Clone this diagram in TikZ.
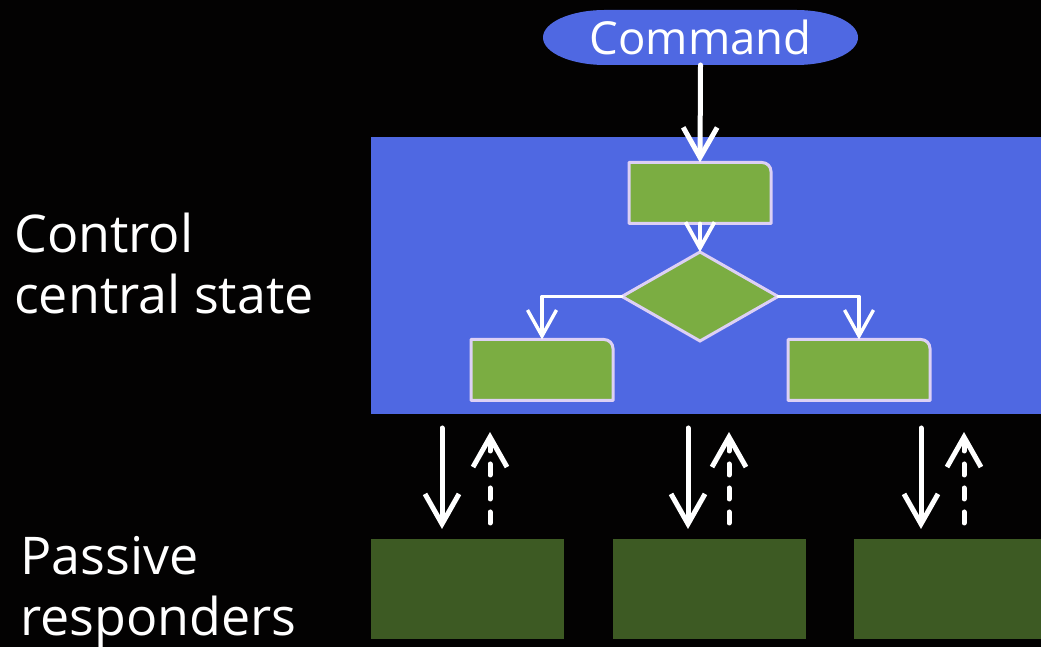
\documentclass[tikz,border=0pt]{standalone}
\usepackage{fontspec}
\setmainfont{Open Sans}
\usetikzlibrary{arrows.meta,shapes.geometric,calc,backgrounds}

\definecolor{bgblack}{HTML}{030202}
\definecolor{panelblue}{HTML}{4F68E2}
\definecolor{leaf}{HTML}{7BAD42}
\definecolor{moss}{HTML}{3D5A23}
\definecolor{lavender}{HTML}{DDD0F5}

\tikzset{
  cmdpill/.style={rectangle, minimum width=315pt, minimum height=55pt,
    inner sep=0pt, outer sep=0pt, text=white, font=\fontsize{45.5}{52}\selectfont},
  ctrlpanel/.style={rectangle, fill=panelblue, minimum width=670pt, minimum height=277pt,
    inner sep=0pt, outer sep=0pt},
  stepbox/.style={rectangle, minimum width=142pt, minimum height=61pt, inner sep=0pt, outer sep=0pt},
  boxline/.style={draw=lavender, fill=leaf, line width=3pt, line join=round},
  decision/.style={diamond, draw=lavender, fill=leaf, line width=3pt, minimum width=156pt,
    minimum height=89pt, inner sep=0pt, outer sep=0pt},
  responder/.style={rectangle, fill=moss, minimum height=100pt, inner sep=0pt, outer sep=0pt},
  sidetext/.style={anchor=west, align=left, text=white, inner sep=0pt,
    font=\fontsize{52}{61}\selectfont},
  flow/.style={draw=white, line width=5pt, line cap=round, line join=round,
    -{Straight Barb[length=30pt, width=34pt]}},
  innerflow/.style={flow, line width=3.8pt, -{Straight Barb[length=26pt, width=29pt]}},
  reply/.style={flow, dash pattern=on 11pt off 13pt},
}

\begin{document}
\begin{tikzpicture}[x=1pt, y=1pt]
  \begin{scope}[on background layer]
    \fill[bgblack] (0,0) rectangle (1041,647);
  \end{scope}
  \useasboundingbox (0,0) rectangle (1041,647);

  % control panel and its flowchart
  \node[ctrlpanel] (ctrl) at (706,371.5) {};
  \node[cmdpill] (cmd) at (700.5,609.5) {Command};
  \begin{scope}[on background layer]
    \fill[panelblue] ([xshift=62pt]cmd.north west) -- ([xshift=-62pt]cmd.north east)
      arc[start angle=90, end angle=-90, x radius=62pt, y radius=27.5pt]
      -- ([xshift=62pt]cmd.south west)
      arc[start angle=270, end angle=90, x radius=62pt, y radius=27.5pt] -- cycle;
  \end{scope}
  \node[stepbox] (s1) at (700,454) {};
  \node[decision] (dec) at (700,350.5) {};
  \node[stepbox] (s2) at (542,277) {};
  \node[stepbox] (s3) at (859,277) {};

  \foreach \b in {s1,s2,s3}
    \draw[boxline] (\b.south west) -- (\b.north west)
      -- ([xshift=-9pt]\b.north east) arc[start angle=90, end angle=0, radius=9pt]
      -- (\b.south east) -- cycle;

  \draw[flow] (cmd.south) -- (s1.north);
  \draw[innerflow] (s1.south) -- (dec.north);
  \draw[innerflow, line width=3.4pt] (dec.west) -| (s2.north);
  \draw[innerflow, line width=3.4pt] (dec.east) -| (s3.north);

  % passive responders
  \node[responder, minimum width=193pt] (r1) at (467.5,58) {};
  \node[responder, minimum width=193pt] (r2) at (709.5,58) {};
  \node[responder, minimum width=190pt] (r3) at (949,58) {};

  \coordinate (d1) at (442,0);  \coordinate (u1) at (490,0);
  \coordinate (d2) at (688,0);  \coordinate (u2) at (729,0);
  \coordinate (d3) at (921,0);  \coordinate (u3) at (964,0);

  \foreach \i in {1,2,3} {
    \draw[flow, shorten <=14pt, shorten >=10pt] (ctrl.south -| d\i) -- (r\i.north -| d\i);
    \draw[reply, shorten <=16pt, shorten >=18pt] (r\i.north -| u\i) -- (ctrl.south -| u\i);
  }

  % side labels
  \node[sidetext] (lctrl) at (14,383) {Control\\central state};
  \node[sidetext] (lpass) at (20,55) {Passive\\responders};
\end{tikzpicture}
\end{document}
